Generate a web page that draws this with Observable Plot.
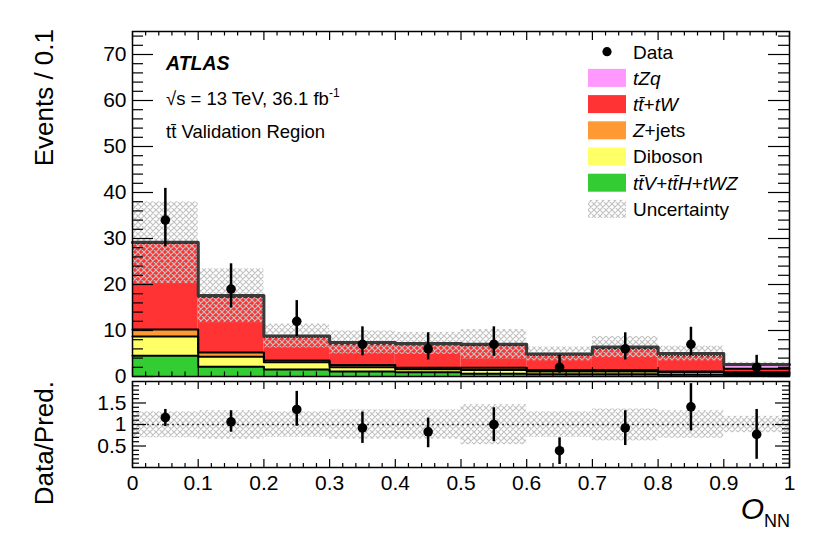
<!DOCTYPE html>
<html><head><meta charset="utf-8">
<script src="https://cdn.jsdelivr.net/npm/d3@7"></script>
<script src="https://cdn.jsdelivr.net/npm/@observablehq/plot@0.6"></script>
<style>
html,body{margin:0;padding:0;background:#fff;}
#wrap{position:relative;width:830px;height:533px;overflow:hidden;background:#fff;font-family:"Liberation Sans",Arial,Helvetica,sans-serif;}
#wrap svg{position:absolute;left:0;}
</style></head><body><div id="wrap"></div>
<script>
// ---- data ----
const binLo = [0, 0.1, 0.2, 0.3, 0.4, 0.5, 0.6, 0.7, 0.8, 0.9];
const binHi = [0.1, 0.2, 0.3, 0.4, 0.5, 0.6, 0.7, 0.8, 0.9, 1.0];
const processes = ["ttV+ttH+tWZ", "Diboson", "Z+jets", "tt+tW", "tZq"];
const colors = ["#33cc33", "#ffff66", "#ff9933", "#ff3333", "#ff99ff"];
const ttV     = [4.5, 2.1, 1.5, 1.1, 0.9, 0.6, 0.5, 0.5, 0.4, 0.3];
const diboson = [4.2, 2.2, 1.6, 0.9, 0.7, 0.8, 0.6, 0.6, 0.5, 0.4];
const zjets   = [1.5, 0.9, 0.4, 0.5, 0.3, 0.5, 0.3, 0.3, 0.2, 0.2];
const ttbarTW = [18.8, 12.2, 5.1, 4.7, 5.1, 4.9, 3.3, 4.7, 3.5, 0.8];
const tZq     = [0.2, 0.2, 0.2, 0.2, 0.2, 0.2, 0.2, 0.3, 0.4, 0.9];
const bandLo  = [20.2, 11.7, 6.2, 4.9, 4.8, 3.8, 3.4, 4.1, 3.4, 2.1];
const bandHi  = [38.0, 23.4, 11.4, 9.9, 9.6, 10.2, 6.4, 8.7, 6.6, 3.1];
const data    = [34, 19, 12, 7, 6, 7, 2, 6, 7, 2];
const dataLo  = [28.2, 14.9, 8.7, 4.5, 3.6, 4.4, 0.7, 3.6, 4.5, 0.7];
const dataHi  = [40.9, 24.5, 16.5, 10.8, 9.5, 10.8, 4.6, 9.5, 10.7, 4.6];
const ratio   = [1.16, 1.06, 1.35, 0.92, 0.83, 1.0, 0.39, 0.92, 1.41, 0.77];
const ratioLo = [0.95, 0.82, 0.96, 0.56, 0.46, 0.60, 0.07, 0.51, 0.85, 0.19];
const ratioHi = [1.35, 1.32, 1.77, 1.29, 1.15, 1.39, 0.69, 1.32, 1.95, 1.35];
const rBandLo = [0.69, 0.66, 0.70, 0.66, 0.66, 0.53, 0.70, 0.62, 0.68, 0.81];
const rBandHi = [1.30, 1.32, 1.30, 1.34, 1.34, 1.46, 1.30, 1.36, 1.32, 1.19];
const xTicks  = [0, 0.1, 0.2, 0.3, 0.4, 0.5, 0.6, 0.7, 0.8, 0.9, 1];
const yTicks  = [0, 10, 20, 30, 40, 50, 60, 70];
const rTicks  = [0.5, 1, 1.5];

// ---- derived tables ----
const series = [ttV, diboson, zjets, ttbarTW, tZq];
const stackRows = [];
binLo.forEach((lo, i) => series.forEach((s, k) => stackRows.push({lo, hi: binHi[i], value: s[i], process: processes[k]})));
const outline = [];
series.forEach((s, k) => {
  const cum = binLo.map((_, i) => d3.sum(series.slice(0, k + 1), t => t[i]));
  binLo.forEach((lo, i) => outline.push({x: lo, y: cum[i], level: k}));
  outline.push({x: binHi[binHi.length - 1], y: cum[cum.length - 1], level: k});
});
const bins = binLo.map((lo, i) => ({
  lo, hi: binHi[i], mid: (lo + binHi[i]) / 2,
  d: data[i], dLo: dataLo[i], dHi: dataHi[i], bLo: bandLo[i], bHi: bandHi[i],
  r: ratio[i], rLo: ratioLo[i], rHi: ratioHi[i], rbLo: rBandLo[i], rbHi: rBandHi[i]
}));
const xMinor = d3.range(0, 1.001, 0.02).filter(v => Math.abs(v * 10 - Math.round(v * 10)) > 1e-6);
const yMinor = d3.range(0, 75.1, 2).filter(v => v % 10 !== 0);
const rMinor = d3.range(1, 20).map(v => v / 10).filter(v => v !== 0.5 && v !== 1 && v !== 1.5);

const FONT = "Liberation Sans, Arial, Helvetica, sans-serif";
const W = 830, ML = 132, MR = 41, FW = W - ML - MR;
const HATCH = `width="6" height="6" patternUnits="userSpaceOnUse"><path d="M0,0L6,6M6,0L0,6M-1,5L1,7M5,-1L7,1M-1,1L1,-1M5,7L7,5" stroke="#c2c2c2" stroke-width="1.2" fill="none"/></pattern>`;

function addHatch(svg, id) {
  const ns = "http://www.w3.org/2000/svg";
  const defs = document.createElementNS(ns, "defs");
  defs.innerHTML = `<pattern id="${id}" ${HATCH}`;
  svg.insertBefore(defs, svg.firstChild);
}
function frameTicks(FH, xMaj, xMin, yMaj, yMin, yMajList, yMinList) {
  const t = {stroke: "black", strokeWidth: 1.2};
  return [
    Plot.tickY(yMinList, {y: d => d, insetRight: FW - yMin, ...t}),
    Plot.tickY(yMinList, {y: d => d, insetLeft: FW - yMin, ...t}),
    Plot.tickY(yMajList, {y: d => d, insetRight: FW - yMaj, ...t}),
    Plot.tickY(yMajList, {y: d => d, insetLeft: FW - yMaj, ...t}),
    Plot.tickX(xMinor, {x: d => d, insetTop: FH - xMin, ...t}),
    Plot.tickX(xMinor, {x: d => d, insetBottom: FH - xMin, ...t}),
    Plot.tickX(xTicks, {x: d => d, insetTop: FH - xMaj, ...t}),
    Plot.tickX(xTicks, {x: d => d, insetBottom: FH - xMaj, ...t})
  ];
}

// ---- main panel ----
const H1 = 380, MT1 = 31, MB1 = 4, FH1 = H1 - MT1 - MB1;
const main = Plot.plot({
  width: W, height: H1, marginLeft: ML, marginRight: MR, marginTop: MT1, marginBottom: MB1,
  style: {fontFamily: FONT, background: "transparent", overflow: "visible"},
  x: {domain: [0, 1], axis: null},
  y: {domain: [0, 75]},
  color: {domain: processes, range: colors},
  marks: [
    Plot.rectY(stackRows, {x1: "lo", x2: "hi", y: "value", fill: "process"}),
    Plot.lineY(outline.filter(d => d.level < 4), {x: "x", y: "y", z: "level", curve: "step-after", stroke: "black", strokeWidth: 2}),
    Plot.rect(bins, {x1: "lo", x2: "hi", y1: "bLo", y2: "bHi", fill: "url(#xh1)"}),
    Plot.lineY(outline.filter(d => d.level === 4), {x: "x", y: "y", curve: "step-after", stroke: "#3a3a3a", strokeWidth: 3}),
    Plot.ruleX(bins, {x: "mid", y1: "dLo", y2: "dHi", stroke: "black", strokeWidth: 2.5}),
    Plot.dot(bins, {x: "mid", y: "d", r: 4.8, fill: "black"}),
    ...frameTicks(FH1, 9, 4.5, 21, 11, yTicks, yMinor),
    Plot.frame({stroke: "black", strokeWidth: 1.5}),
    Plot.axisY(yTicks, {tickSize: 0, tickPadding: 6, fontSize: 21, tickFormat: d => String(d)})
  ]
});
addHatch(main, "xh1");
main.style.top = "0px";

// ---- ratio panel ----
const H2 = 155, MT2 = 3, MB2 = 66, FH2 = H2 - MT2 - MB2;
const rat = Plot.plot({
  width: W, height: H2, marginLeft: ML, marginRight: MR, marginTop: MT2, marginBottom: MB2,
  style: {fontFamily: FONT, background: "transparent", overflow: "visible"},
  x: {domain: [0, 1]},
  y: {domain: [0, 2]},
  marks: [
    Plot.rect(bins, {x1: "lo", x2: "hi", y1: "rbLo", y2: "rbHi", fill: "url(#xh2)"}),
    Plot.ruleY([1], {stroke: "#333", strokeWidth: 1.5, strokeDasharray: "2,3"}),
    Plot.ruleX(bins, {x: "mid", y1: "rLo", y2: "rHi", stroke: "black", strokeWidth: 2.5}),
    Plot.dot(bins, {x: "mid", y: "r", r: 4.8, fill: "black"}),
    ...frameTicks(FH2, 8, 4, 14, 7, rTicks, rMinor),
    Plot.frame({stroke: "black", strokeWidth: 1.5}),
    Plot.axisY(rTicks, {tickSize: 0, tickPadding: 6, fontSize: 21, tickFormat: d => String(d)}),
    Plot.axisX(xTicks, {tickSize: 0, tickPadding: 8, fontSize: 21, tickFormat: d => String(d)})
  ]
});
addHatch(rat, "xh2");
rat.style.top = "378px";

const wrap = document.getElementById("wrap");
wrap.appendChild(main);
wrap.appendChild(rat);

// ---- annotations & legend ----
const tb = "t\u0304";
const legendItems = [
  {kind: "dot", label: `Data`},
  {kind: "box", color: colors[4], label: `<tspan font-style="italic">tZq</tspan>`},
  {kind: "box", color: colors[3], label: `<tspan font-style="italic">t${tb}</tspan>+<tspan font-style="italic">tW</tspan>`},
  {kind: "box", color: colors[2], label: `<tspan font-style="italic">Z</tspan>+jets`},
  {kind: "box", color: colors[1], label: `Diboson`},
  {kind: "box", color: colors[0], label: `<tspan font-style="italic">t${tb}V</tspan>+<tspan font-style="italic">t${tb}H</tspan>+<tspan font-style="italic">tWZ</tspan>`},
  {kind: "hatch", label: `Uncertainty`}
];
let leg = "";
legendItems.forEach((it, i) => {
  const cy = 51.7 + i * 26.2;
  if (it.kind === "dot") leg += `<circle cx="607" cy="${cy}" r="4.6" fill="black"/>`;
  else if (it.kind === "box") leg += `<rect x="588" y="${cy - 9}" width="38" height="18" fill="${it.color}"/>`;
  else leg += `<rect x="588" y="${cy - 9}" width="38" height="18" fill="url(#xh3)"/>`;
  leg += `<text x="633" y="${cy + 6.8}" font-size="19">${it.label}</text>`;
});
const ov = document.createElement("div");
ov.innerHTML = `<svg width="830" height="533" style="position:absolute;left:0;top:0;font-family:${FONT};pointer-events:none">
<defs><pattern id="xh3" ${HATCH}</defs>
<text transform="translate(53,29) rotate(-90)" text-anchor="end" font-size="26">Events / 0.1</text>
<text transform="translate(53,381) rotate(-90)" text-anchor="end" font-size="26">Data/Pred.</text>
<text x="166" y="70" font-size="19.5" font-weight="bold" font-style="italic">ATLAS</text>
<text x="166" y="105" font-size="18.5">√s = 13 TeV, 36.1 fb<tspan font-size="12" dy="-8">-1</tspan></text>
<text x="166" y="138" font-size="18.5">t${tb} Validation Region</text>
<text x="790" y="519" text-anchor="end" font-size="30"><tspan font-style="italic">O</tspan><tspan font-size="18" dy="8">NN</tspan></text>
${leg}
</svg>`;
wrap.appendChild(ov.firstChild);
</script></body></html>
